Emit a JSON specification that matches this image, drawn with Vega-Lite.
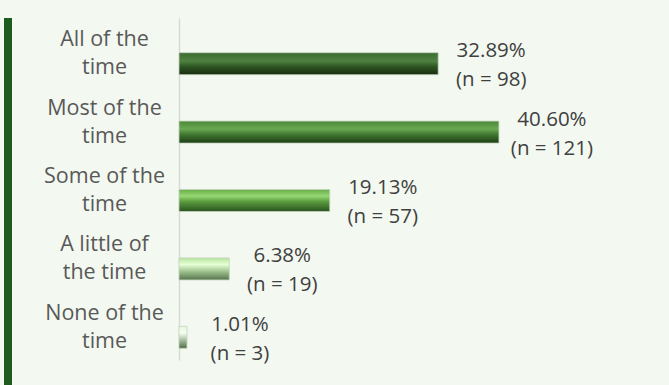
{
  "$schema": "https://vega.github.io/schema/vega-lite/v6.json",
  "background": "#f3f8f0",
  "padding": {"left": 4, "top": 0, "right": 0, "bottom": 0},
  "config": {
    "view": {"stroke": null},
    "concat": {"spacing": 31},
    "font": "Open Sans"
  },
  "datasets": {
    "d": [
      {"cat": "All of the time", "pct": 32.89, "n": 98},
      {"cat": "Most of the time", "pct": 40.60, "n": 121},
      {"cat": "Some of the time", "pct": 19.13, "n": 57},
      {"cat": "A little of the time", "pct": 6.38, "n": 19},
      {"cat": "None of the time", "pct": 1.01, "n": 3}
    ]
  },
  "hconcat": [
    {
      "width": 8,
      "height": 385,
      "view": {"fill": "#1e5b1e", "stroke": null},
      "data": {"values": []},
      "mark": "point",
      "encoding": {}
    },
    {
      "title": {"text": " ", "fontSize": 14, "offset": 4, "anchor": "start"},
      "width": 490,
      "height": 342,
      "data": {"name": "d"},
      "transform": [
        {"calculate": "format(datum.pct, '.2f') + '%\\n(n = ' + datum.n + ')'", "as": "label"}
      ],
      "encoding": {
        "y": {
          "field": "cat",
          "type": "nominal",
          "sort": null,
          "scale": {"paddingInner": 0, "paddingOuter": 0},
          "axis": {
            "title": null,
            "ticks": false,
            "tickSize": 0,
            "domainColor": "#d6dbd4",
            "domainWidth": 1.5,
            "labelAlign": "center",
            "labelBaseline": "middle",
            "labelPadding": 75,
            "labelOffset": -12,
            "labelFontSize": 21.5,
            "labelColor": "#595959",
            "labelLineHeight": 28,
            "labelLimit": 0,
            "labelExpr": "datum.label == 'A little of the time' ? ['A little of', 'the time'] : [replace(datum.label, ' time', ''), 'time']"
          }
        },
        "x": {
          "field": "pct",
          "type": "quantitative",
          "scale": {"domain": [0, 62.18], "nice": false},
          "axis": null
        }
      },
      "layer": [
        {
          "mark": {"type": "bar", "height": 22, "yOffset": 11.5, "stroke": "#c5d3bf", "strokeWidth": 0.8},
          "encoding": {
            "fill": {
              "condition": [
                {"test": "datum.cat === 'All of the time'", "value": {"gradient": "linear", "x1": 0, "y1": 0, "x2": 0, "y2": 1, "stops": [
                  {"offset": 0, "color": "#3b6a2e"}, {"offset": 0.38, "color": "#4f8241"}, {"offset": 0.62, "color": "#2f5724"}, {"offset": 1, "color": "#172d10"}]}},
                {"test": "datum.cat === 'Most of the time'", "value": {"gradient": "linear", "x1": 0, "y1": 0, "x2": 0, "y2": 1, "stops": [
                  {"offset": 0, "color": "#4b8738"}, {"offset": 0.36, "color": "#6aa952"}, {"offset": 0.62, "color": "#3f7530"}, {"offset": 1, "color": "#1c3e16"}]}},
                {"test": "datum.cat === 'Some of the time'", "value": {"gradient": "linear", "x1": 0, "y1": 0, "x2": 0, "y2": 1, "stops": [
                  {"offset": 0, "color": "#68ad48"}, {"offset": 0.3, "color": "#96d873"}, {"offset": 0.55, "color": "#5a9c3e"}, {"offset": 1, "color": "#2b5420"}]}},
                {"test": "datum.cat === 'A little of the time'", "value": {"gradient": "linear", "x1": 0, "y1": 0, "x2": 0, "y2": 1, "stops": [
                  {"offset": 0, "color": "#b5e49c"}, {"offset": 0.3, "color": "#e6ffd6"}, {"offset": 0.6, "color": "#a2c591"}, {"offset": 1, "color": "#56744c"}]}}
              ],
              "value": {"gradient": "linear", "x1": 0, "y1": 0, "x2": 0, "y2": 1, "stops": [
                {"offset": 0, "color": "#e6f6dc"}, {"offset": 0.3, "color": "#f6fff0"}, {"offset": 0.6, "color": "#afc6a6"}, {"offset": 1, "color": "#4d6c46"}]}
            }
          }
        },
        {
          "mark": {"type": "text", "align": "center", "baseline": "middle", "dx": 53, "yOffset": -1, "lineBreak": "\n", "lineHeight": 29, "fontSize": 20.5, "color": "#404040"},
          "encoding": {"text": {"field": "label"}}
        }
      ]
    }
  ]
}
